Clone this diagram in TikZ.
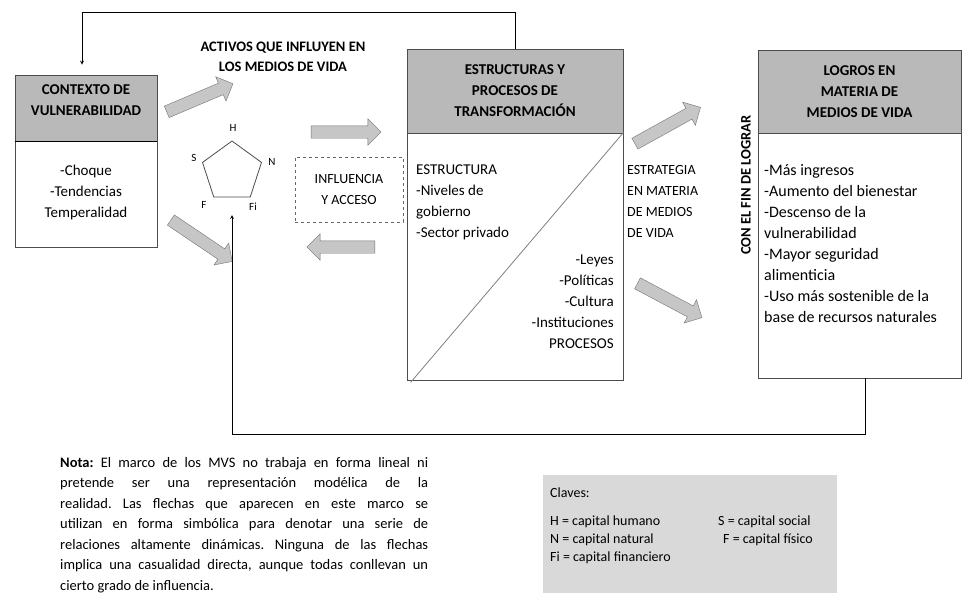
\documentclass[tikz,border=0pt]{standalone}
\usepackage{fontspec}
\setmainfont{Carlito}
\frenchspacing
\usetikzlibrary{shapes.geometric, shapes.arrows, arrows}
\tikzstyle{header} = [rectangle, draw=black!70, fill=gray!55, text centered, align=center, line width=0.8pt, font=\bfseries\fontsize{15}{21}\selectfont]
\tikzstyle{body} = [rectangle, draw=black!70, fill=white, line width=0.8pt]
\tikzstyle{bigarrow} = [single arrow, draw=black!55, fill=gray!45, inner sep=6pt, single arrow head extend=7pt, single arrow head indent=0pt]
\tikzstyle{txt} = [inner sep=0pt, font=\fontsize{15}{21}\selectfont]
\tikzstyle{small} = [inner sep=0pt, font=\fontsize{11}{13}\selectfont]
\tikzstyle{arrow} = [thick,->,>=stealth]

\begin{document}
\begin{tikzpicture}[x=1pt,y=-1pt]
	\useasboundingbox (0,0) rectangle (964,603);
	% boxes
	\node (ctxh) [header, minimum width=142pt, minimum height=66pt] at (86,108) {CONTEXTO DE\\VULNERABILIDAD\\[-6pt]};
	\node (ctxb) [body, minimum width=142pt, minimum height=106pt] at (86,194) {};
	\draw [line width=1.6pt] (ctxh.south west) -- (ctxh.south east);
	\node (esth) [header, minimum width=216pt, minimum height=84pt] at (515,91) {ESTRUCTURAS Y\\PROCESOS DE\\TRANSFORMACIÓN};
	\node (estb) [body, minimum width=216pt, minimum height=247pt] at (515,256.5) {};
	\node (logh) [header, minimum width=203pt, minimum height=83pt] at (859.5,91.5) {LOGROS EN\\MATERIA DE\\MEDIOS DE VIDA};
	\node (logb) [body, minimum width=203pt, minimum height=245pt] at (859.5,255.5) {};
	\draw [gray, thick] (estb.north east) -- ([xshift=4pt,yshift=-2pt]estb.south west);
	% texts
	\node (ctxtxt) [txt, align=center] at (86,192) {-Choque\\-Tendencias\\Temperalidad};
	\node (estr) [txt, align=left, anchor=north west] at (416,165) {ESTRUCTURA\\-Niveles de\\gobierno\\-Sector privado};
	\node (proc) [txt, align=right, anchor=north east] at (614,255) {-Leyes\\-Políticas\\-Cultura\\-Instituciones\\PROCESOS};
	\node (estrat) [txt, align=left, anchor=north west, font=\fontsize{14}{21}\selectfont] at (627,165) {ESTRATEGIA\\EN MATERIA\\DE MEDIOS\\DE VIDA};
	\node (logtxt) [txt, align=left, anchor=north west, font=\fontsize{16}{21}\selectfont] at (764,164) {-Más ingresos\\-Aumento del bienestar\\-Descenso de la\\vulnerabilidad\\-Mayor seguridad\\alimenticia\\-Uso más sostenible de la\\base de recursos naturales};
	\node (fin) [txt, rotate=90, font=\bfseries\fontsize{14.5}{17}\selectfont] at (746,185) {CON EL FIN DE LOGRAR};
	\node (title) [txt, align=center, font=\bfseries\fontsize{14.5}{20}\selectfont] at (283,57) {ACTIVOS QUE INFLUYEN EN\\LOS MEDIOS DE VIDA};
	\node (influ) [draw=black!60, dashed, thick, minimum width=108pt, minimum height=65pt, align=center, font=\fontsize{14}{21}\selectfont] at (349,189.5) {INFLUENCIA\\Y ACCESO};
	% pentagon of assets
	\node (pent) [regular polygon, regular polygon sides=5, minimum size=62pt, inner sep=0pt, draw=black!70, thick] at (232,172) {};
	\node (labH) [small] at (233,128) {H};
	\node (labN) [small] at (272,162) {N};
	\node (labFi) [small] at (253,207) {Fi};
	\node (labF) [small] at (204,205) {F};
	\node (labS) [small] at (194,158) {S};
	% block arrows
	\node (arr1) [bigarrow, minimum height=72pt, rotate=23] at (197,99) {};
	\node (arr2) [bigarrow, minimum height=74pt, rotate=-34] at (199,239) {};
	\node (arr3) [bigarrow, minimum height=70pt] at (343,132) {};
	\node (arr4) [bigarrow, minimum height=68pt, rotate=180] at (344,247) {};
	\node (arr5) [bigarrow, minimum height=75pt, rotate=29] at (665,127) {};
	\node (arr6) [bigarrow, minimum height=73pt, rotate=-28] at (667,299) {};
	% feedback lines
	\coordinate (fbtip) at (232,215);
	\draw [arrow] (esth.north) -- ++(0,-36) -| ([xshift=-4pt,yshift=10pt]ctxh.north);
	\draw [arrow] ([xshift=6pt]logb.south) -- ++(0,56) -| (fbtip);
	% note
	\node (nota) [txt, anchor=north west, text width=368pt, align=justify, font=\fontsize{14.5}{20.5}\selectfont] at (60,457) {\textbf{Nota:} El marco de los MVS no trabaja en forma lineal ni\linebreak pretende ser una representación modélica de la\linebreak realidad. Las flechas que aparecen en este marco se\linebreak utilizan en forma simbólica para denotar una serie de\linebreak relaciones altamente dinámicas. Ninguna de las flechas\linebreak implica una casualidad directa, aunque todas conllevan un\linebreak cierto grado de influencia.};
	% key
	\node (clav) [fill=gray!30, minimum width=294pt, minimum height=118pt] at (690,534) {};
	\node (clavt) [txt, anchor=west, font=\fontsize{14}{18}\selectfont] at (550,493) {Claves:};
	\node (keyH) [txt, anchor=west, font=\fontsize{14}{18}\selectfont] at (550,522) {H = capital humano};
	\node (keyN) [txt, anchor=west, font=\fontsize{14}{18}\selectfont] at (550,540) {N = capital natural};
	\node (keyFi) [txt, anchor=west, font=\fontsize{14}{18}\selectfont] at (550,558) {Fi = capital financiero};
	\node (keyS) [txt, anchor=west, font=\fontsize{14}{18}\selectfont] at (718,522) {S = capital social};
	\node (keyF) [txt, anchor=west, font=\fontsize{14}{18}\selectfont] at (723,540) {F = capital físico};
\end{tikzpicture}
\end{document}
